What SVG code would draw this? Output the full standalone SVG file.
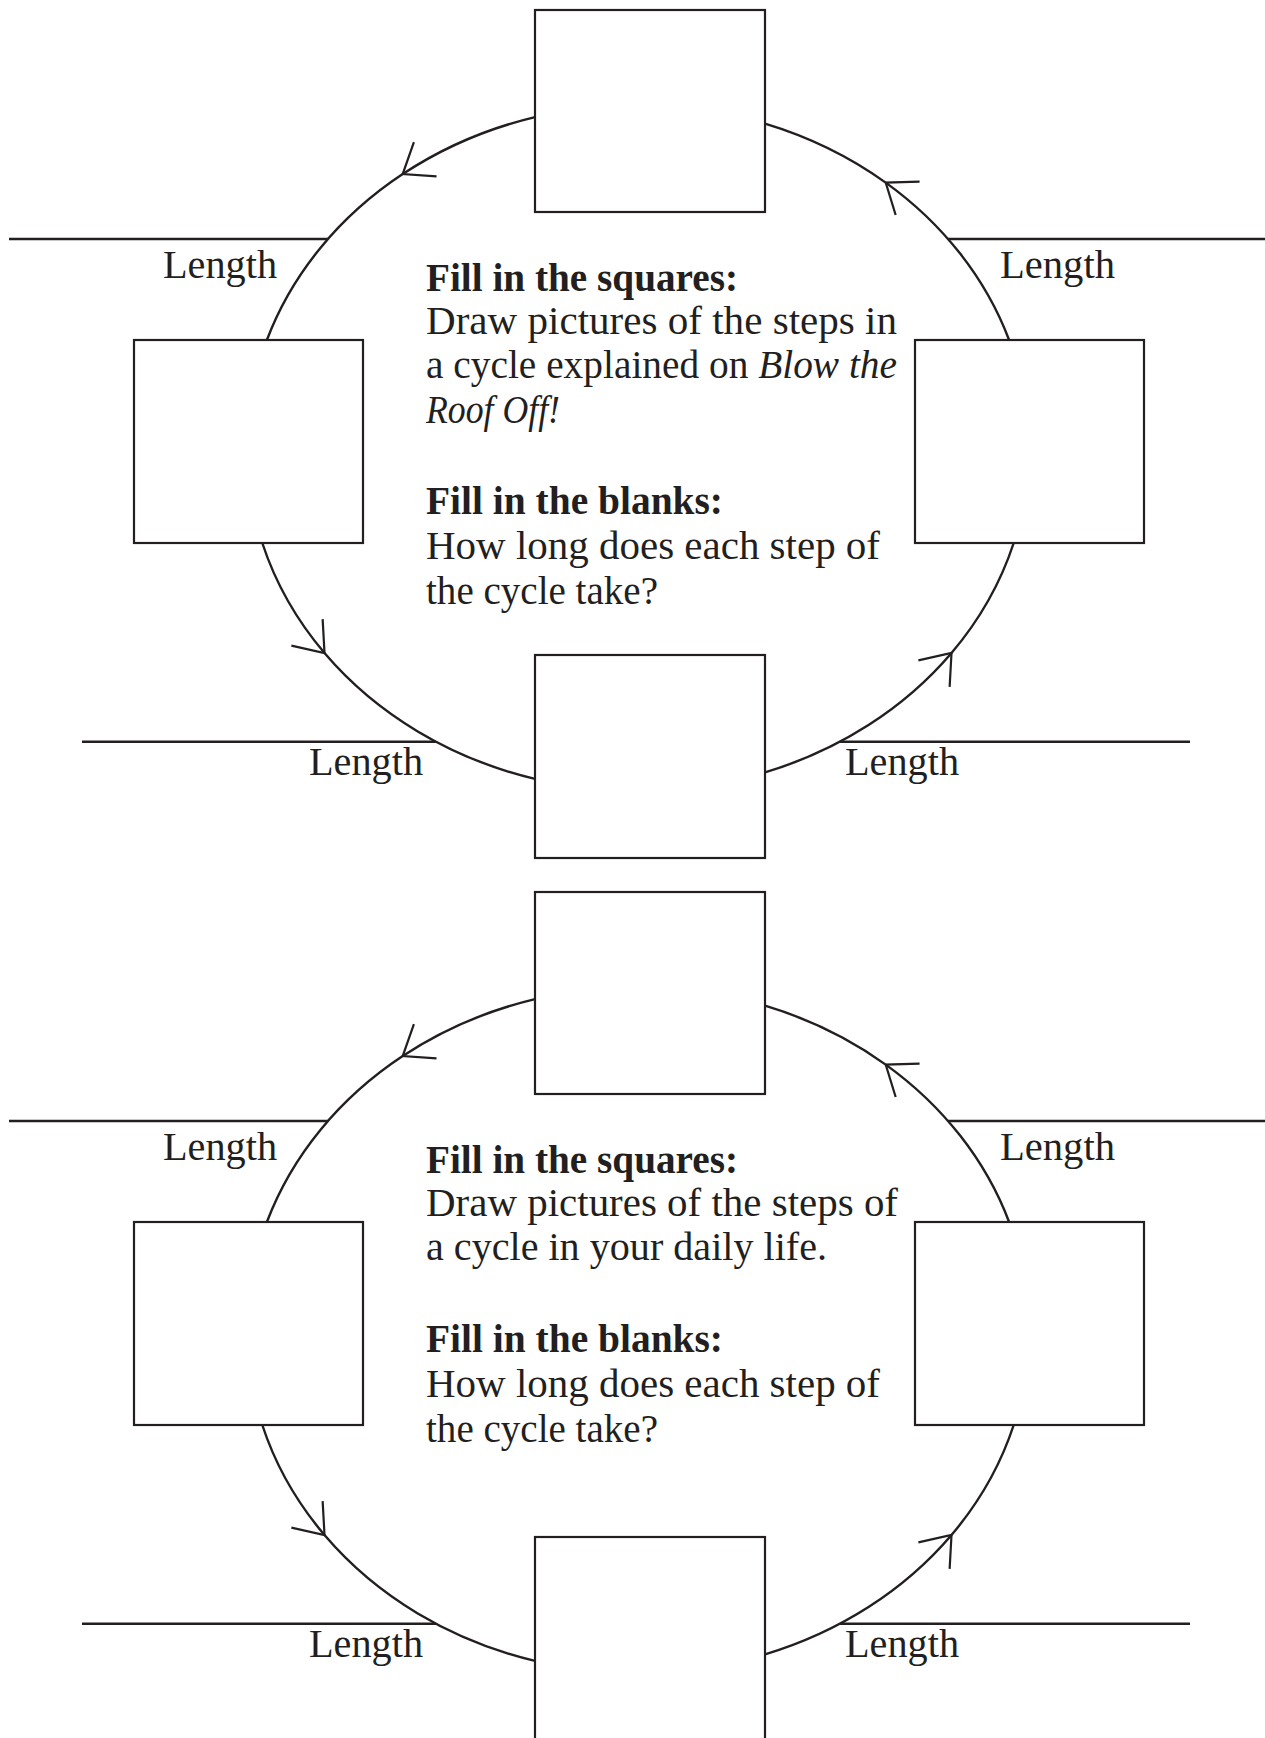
<svg xmlns="http://www.w3.org/2000/svg" width="1265" height="1738" viewBox="0 0 1265 1738">
<style>
  .box{fill:#fff;stroke:#231f20;stroke-width:2.2}
  .conn{fill:none;stroke:#231f20;stroke-width:2.4;marker-mid:url(#chev)}
  .rule{stroke:#231f20;stroke-width:2.4}
  .t{font-family:"Liberation Serif","Times New Roman",serif;font-size:39px;fill:#231f20}
  .b{font-weight:bold}
  .i{font-style:italic}
</style>
<defs>
  <marker id="chev" markerUnits="userSpaceOnUse" viewBox="-40 -30 50 60" refX="0" refY="0" markerWidth="50" markerHeight="60" orient="auto" overflow="visible">
    <path d="M -27,-20.5 L 0,0 L -27,20.5" fill="none" stroke="#231f20" stroke-width="2.2"/>
  </marker>
</defs>
<rect width="1265" height="1738" fill="#fff"/>

<!-- ===== Cycle 1 ===== -->
<g id="cycle1">
  <g id="cycle1-connectors">
    <path class="conn" d="M 535,117.1 A 391 343 0 0 0 402.7,174.1 A 391 343 0 0 0 266.9,340"/>
    <path class="conn" d="M 262.3,543 A 391 343 0 0 0 324.5,653 A 391 343 0 0 0 535,778.9"/>
    <path class="conn" d="M 765,772.4 A 391 343 0 0 0 951.5,653 A 391 343 0 0 0 1013.7,543"/>
    <path class="conn" d="M 1009.1,340 A 391 343 0 0 0 885.7,182.6 A 391 343 0 0 0 765,123.6"/>
  </g>
  <g id="c1-box-top"><rect class="box" x="535" y="10" width="230" height="202"/></g>
  <g id="c1-box-left"><rect class="box" x="134" y="340" width="229" height="203"/></g>
  <g id="c1-box-right"><rect class="box" x="915" y="340" width="229" height="203"/></g>
  <g id="c1-box-bottom"><rect class="box" x="535" y="655" width="230" height="203"/></g>
  <g id="c1-len-tl"><line class="rule" x1="9" y1="239" x2="328" y2="239"/><text class="t" x="163" y="278" textLength="114" lengthAdjust="spacingAndGlyphs">Length</text></g>
  <g id="c1-len-tr"><line class="rule" x1="948" y1="239" x2="1265" y2="239"/><text class="t" x="1000" y="278" textLength="115" lengthAdjust="spacingAndGlyphs">Length</text></g>
  <g id="c1-len-bl"><line class="rule" x1="82" y1="741.7" x2="436" y2="741.7"/><text class="t" x="309" y="775" textLength="114" lengthAdjust="spacingAndGlyphs">Length</text></g>
  <g id="c1-len-br"><line class="rule" x1="840" y1="741.7" x2="1190" y2="741.7"/><text class="t" x="845" y="775" textLength="114" lengthAdjust="spacingAndGlyphs">Length</text></g>
  <g id="c1-instructions">
    <text class="t b" x="426" y="291" textLength="312" lengthAdjust="spacingAndGlyphs">Fill in the squares:</text>
    <text class="t" x="426" y="334" textLength="471" lengthAdjust="spacingAndGlyphs">Draw pictures of the steps in</text>
    <text class="t" x="426" y="378" textLength="471" lengthAdjust="spacingAndGlyphs">a cycle explained on <tspan class="i">Blow the</tspan></text>
    <text class="t i" x="426" y="423" textLength="134" lengthAdjust="spacingAndGlyphs">Roof Off!</text>
    <text class="t b" x="426" y="514" textLength="297" lengthAdjust="spacingAndGlyphs">Fill in the blanks:</text>
    <text class="t" x="426" y="559" textLength="454" lengthAdjust="spacingAndGlyphs">How long does each step of</text>
    <text class="t" x="426" y="604" textLength="232" lengthAdjust="spacingAndGlyphs">the cycle take?</text>
  </g>
</g>

<!-- ===== Cycle 2 ===== -->
<g id="cycle2" transform="translate(0,882)">
  <g id="cycle2-connectors">
    <path class="conn" d="M 535,117.1 A 391 343 0 0 0 402.7,174.1 A 391 343 0 0 0 266.9,340"/>
    <path class="conn" d="M 262.3,543 A 391 343 0 0 0 324.5,653 A 391 343 0 0 0 535,778.9"/>
    <path class="conn" d="M 765,772.4 A 391 343 0 0 0 951.5,653 A 391 343 0 0 0 1013.7,543"/>
    <path class="conn" d="M 1009.1,340 A 391 343 0 0 0 885.7,182.6 A 391 343 0 0 0 765,123.6"/>
  </g>
  <g id="c2-box-top"><rect class="box" x="535" y="10" width="230" height="202"/></g>
  <g id="c2-box-left"><rect class="box" x="134" y="340" width="229" height="203"/></g>
  <g id="c2-box-right"><rect class="box" x="915" y="340" width="229" height="203"/></g>
  <g id="c2-box-bottom"><rect class="box" x="535" y="655" width="230" height="203"/></g>
  <g id="c2-len-tl"><line class="rule" x1="9" y1="239" x2="328" y2="239"/><text class="t" x="163" y="278" textLength="114" lengthAdjust="spacingAndGlyphs">Length</text></g>
  <g id="c2-len-tr"><line class="rule" x1="948" y1="239" x2="1265" y2="239"/><text class="t" x="1000" y="278" textLength="115" lengthAdjust="spacingAndGlyphs">Length</text></g>
  <g id="c2-len-bl"><line class="rule" x1="82" y1="741.7" x2="436" y2="741.7"/><text class="t" x="309" y="775" textLength="114" lengthAdjust="spacingAndGlyphs">Length</text></g>
  <g id="c2-len-br"><line class="rule" x1="840" y1="741.7" x2="1190" y2="741.7"/><text class="t" x="845" y="775" textLength="114" lengthAdjust="spacingAndGlyphs">Length</text></g>
  <g id="c2-instructions">
    <text class="t b" x="426" y="291" textLength="312" lengthAdjust="spacingAndGlyphs">Fill in the squares:</text>
    <text class="t" x="426" y="334" textLength="472" lengthAdjust="spacingAndGlyphs">Draw pictures of the steps of</text>
    <text class="t" x="426" y="378" textLength="401" lengthAdjust="spacingAndGlyphs">a cycle in your daily life.</text>
    <text class="t b" x="426" y="470" textLength="297" lengthAdjust="spacingAndGlyphs">Fill in the blanks:</text>
    <text class="t" x="426" y="515" textLength="454" lengthAdjust="spacingAndGlyphs">How long does each step of</text>
    <text class="t" x="426" y="560" textLength="232" lengthAdjust="spacingAndGlyphs">the cycle take?</text>
  </g>
</g>
</svg>
